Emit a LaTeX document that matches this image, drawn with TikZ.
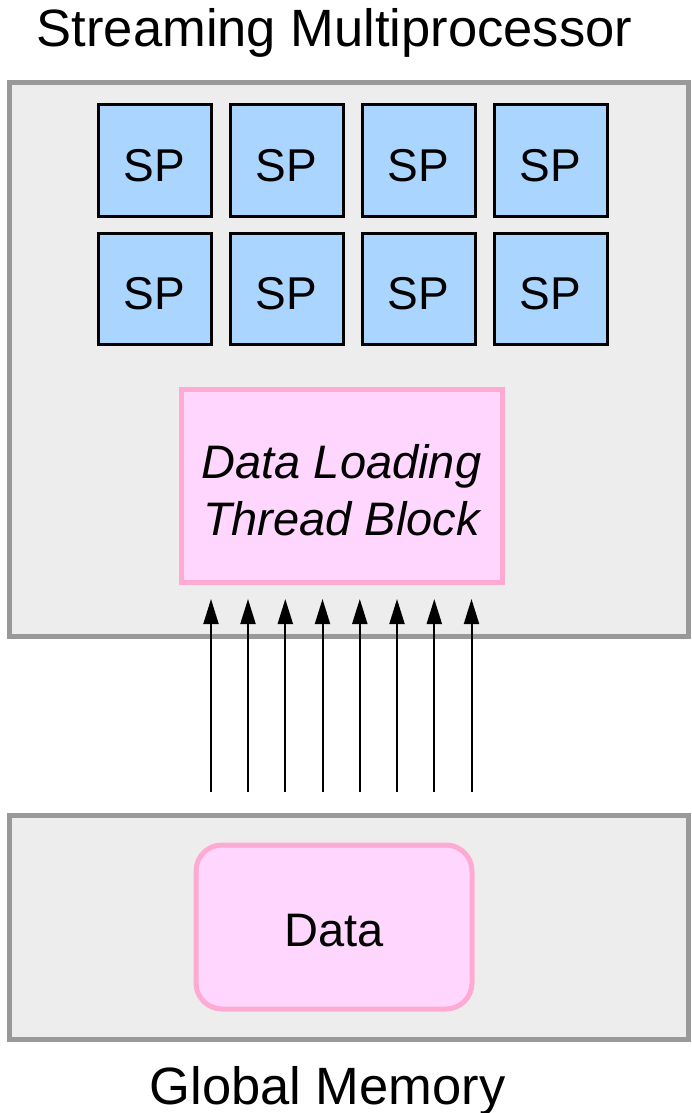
\documentclass[tikz,border=0pt]{standalone}
\usepackage{fontspec}
\setmainfont{Liberation Sans}
\usetikzlibrary{arrows.meta}
\definecolor{boxgray}{HTML}{EDEDED}
\definecolor{edgegray}{HTML}{999999}
\definecolor{spblue}{HTML}{A9D5FF}
\definecolor{pinkfill}{HTML}{FFD6FD}
\definecolor{pinkedge}{HTML}{FFAAD3}
\tikzset{
  region/.style={draw=edgegray, fill=boxgray, line width=5pt, inner sep=0pt},
  spbox/.style={draw=black, fill=spblue, line width=3pt, minimum width=113pt, minimum height=111pt, inner sep=0pt,
    font=\fontsize{46}{46}\selectfont, text height=41pt, text depth=0pt},
  pinkbox/.style={draw=pinkedge, fill=pinkfill, line width=5pt, inner sep=0pt},
  caption/.style={font=\fontsize{52.5}{52.5}\selectfont, inner sep=0pt, anchor=base},
  load/.style={line width=2pt, -{Triangle[length=25pt,width=15pt]}}
}
\begin{document}
\begin{tikzpicture}[x=1pt,y=-1pt]
  \useasboundingbox (0,0) rectangle (692,1113);

  % Streaming multiprocessor
  \node[caption] (smlabel) at (334.5,47) {Streaming Multiprocessor};
  \node[region, minimum width=679pt, minimum height=553.5pt] (sm) at (348.5,359.25) {};

  % grid of scalar processors
  \foreach \c [count=\i] in {154.5,286.5,418.5,550.5}{
    \node[spbox] (spa\i) at (\c,160.5) {SP};
    \node[spbox] (spb\i) at (\c,288.5) {SP};
  }

  % loading block
  \node[pinkbox, minimum width=321pt, minimum height=193pt, align=center,
        font=\fontsize{47}{57}\selectfont\itshape, text height=109pt, text depth=10pt] (dl) at (341.5,485.5) {Data Loading\\Thread Block};

  % global memory
  \node[region, minimum width=679pt, minimum height=224pt] (gm) at (348.5,927) {};
  \node[pinkbox, rounded corners=26pt, minimum width=276pt, minimum height=164pt,
        font=\fontsize{47}{47}\selectfont, text height=39.4pt, text depth=0pt] (data) at (334,927) {Data};
  \node[caption] (gmlabel) at (327.5,1104) {Global Memory};

  % parallel loads
  \foreach \x [count=\i] in {211,248,285.3,322.5,359.8,397,434.3,471.5}{
    \coordinate (from\i) at (\x,792);
    \coordinate (to\i) at (\x,599);
    \draw[load] (from\i) -- (to\i);
  }
\end{tikzpicture}
\end{document}
